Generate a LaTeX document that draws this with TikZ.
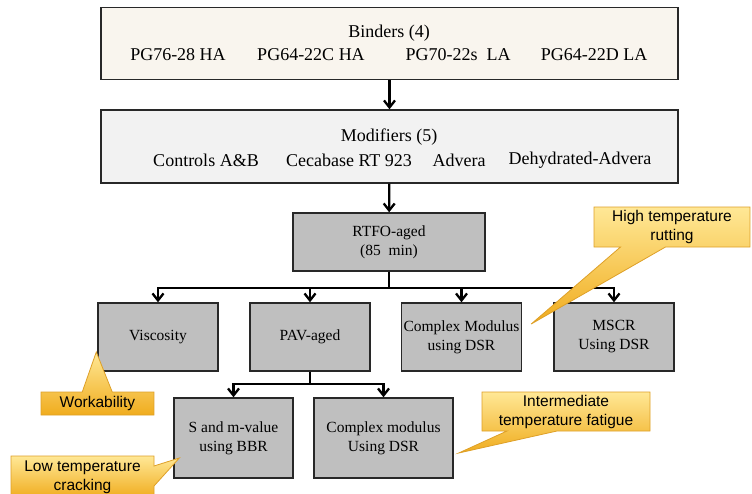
\documentclass[tikz,border=0pt]{standalone}
\usepackage{fontspec}
\setmainfont{Liberation Serif}
\newfontfamily\callfont{Liberation Sans}
\usetikzlibrary{positioning,shapes.callouts,arrows.meta,calc}

\definecolor{binderfill}{RGB}{249,245,238}
\definecolor{modfill}{RGB}{242,242,242}
\definecolor{testfill}{RGB}{191,191,191}
\definecolor{boxline}{RGB}{40,40,40}
\definecolor{calltop}{RGB}{255,232,150}
\definecolor{callbot}{RGB}{240,172,30}
\definecolor{callline}{RGB}{222,160,40}

\tikzset{
  bigbox/.style={draw=boxline, line width=1.4pt, minimum width=577pt, minimum height=72pt, inner sep=0pt},
  testbox/.style={draw=boxline, line width=1.4pt, fill=testfill, inner sep=0pt, align=center, font=\fontsize{15.5}{19}\selectfont},
  txt/.style={inner sep=0pt, font=\fontsize{18}{22}\selectfont},
  arr/.style={-{Straight Barb[length=7pt,width=11pt]}, line width=2.3pt},
  note/.style={rectangle callout, draw=callline, line width=0.8pt, top color=calltop, bottom color=callbot, inner sep=0pt, align=center, font=\callfont\fontsize{15.5}{19}\selectfont},
}

\begin{document}
\begin{tikzpicture}[x=1pt, y=-1pt]
  \useasboundingbox (0,0) rectangle (752,493);
  \clip (0,0) rectangle (752,493);

  % Cajas
  \node[bigbox, fill=binderfill] (binders) at (389.5,43.5) {};
  \node[txt] (bindtitle) at (389,33) {Binders (4)};
  \node[txt] (pg1) at (178,55) {PG76-28 HA};
  \node[txt] (pg2) at (311,55) {PG64-22C HA};
  \node[txt] (pg3) at (458,55) {PG70-22s\ \ LA};
  \node[txt] (pg4) at (594,55) {PG64-22D LA};

  \node[bigbox, fill=modfill, minimum height=73pt] (modif) at (389.5,146.5) {};
  \node[txt] (modtitle) at (389,137) {Modifiers (5)};
  \node[txt] (md1) at (206,160) {Controls A\&B};
  \node[txt] (md2) at (349,160) {Cecabase RT 923};
  \node[txt] (md3) at (459,160) {Advera};
  \node[txt] (md4) at (580,160) {Dehydrated-Advera};

  \node[testbox, minimum width=192pt, minimum height=58pt] (rtfo) at (389,242) {RTFO-aged\\(85\ \ min)};

  \node[testbox, minimum width=120pt, minimum height=68pt] (visc) at (158,337) {Viscosity};
  \node[testbox, minimum width=120pt, minimum height=68pt] (pav) at (310,337) {PAV-aged};
  \node[testbox, minimum width=120pt, minimum height=68pt] (cmod) at (461.5,337) {Complex Modulus\\using DSR};
  \node[testbox, minimum width=120pt, minimum height=68pt] (mscr) at (614,337) {MSCR\\Using DSR};

  \node[testbox, minimum width=119pt, minimum height=80pt] (sbbr) at (233.5,438) {S and m-value\\using BBR};
  \node[testbox, minimum width=139pt, minimum height=80pt] (cmodbis) at (383.5,438) {Complex modulus\\Using DSR};

  % Flechas
  \draw[arr] (binders) -- (modif);
  \draw[arr] (modif) -- (rtfo);
  \draw[arr] (rtfo.south) -- ++(0,16) -| (visc.north);
  \draw[arr] (rtfo.south) -- ++(0,16) -| (pav.north);
  \draw[arr] (rtfo.south) -- ++(0,16) -| (cmod.north);
  \draw[arr] (rtfo.south) -- ++(0,16) -| (mscr.north);
  \draw[arr] (pav.south) -- ++(0,12) -| (sbbr.north);
  \draw[arr] (pav.south) -- ++(0,12) -| (cmodbis.north);

  % Llamadas
  \coordinate (hitip) at ($(cmod.east)+(9,-13)$);
  \coordinate (worktip) at ($(visc.west)+(-1,15)$);
  \coordinate (lowtip) at ($(sbbr.west)+(6,20)$);
  \coordinate (inttip) at ($(cmodbis.east)+(5,15)$);

  \node[note, minimum width=156pt, minimum height=40pt, callout absolute pointer={(hitip)}, callout pointer width=45pt] (hinote) at (672,227) {High temperature\\rutting};
  \node[note, minimum width=113pt, minimum height=23pt, callout absolute pointer={(worktip)}, callout pointer width=30pt] (worknote) at (97.5,403.5) {Workability};
  \node[note, minimum width=143pt, minimum height=42pt, callout absolute pointer={(lowtip)}, callout pointer width=20pt] (lownote) at (82.5,477) {Low temperature\\cracking};
  \node[note, minimum width=168pt, minimum height=39pt, callout absolute pointer={(inttip)}, callout pointer width=50pt] (intnote) at (566,411.5) {Intermediate\\temperature fatigue};
\end{tikzpicture}
\end{document}
